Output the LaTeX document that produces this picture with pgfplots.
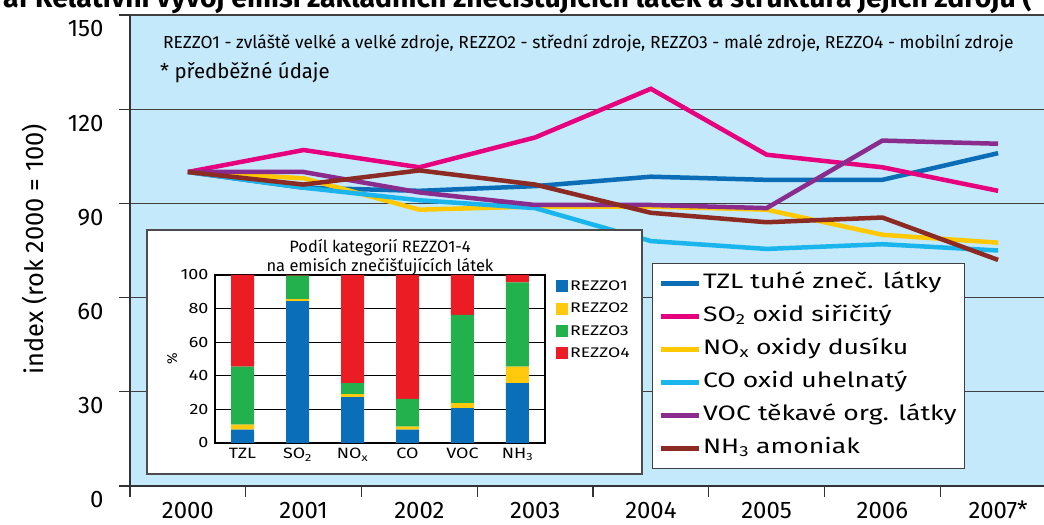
\documentclass[border=0pt]{standalone}
\usepackage{fontspec}
\setmainfont{Fira Sans}
\newfontfamily\widefont{Fira Sans}[FakeStretch=1.27]
\newfontfamily\midfont{Fira Sans}[FakeStretch=1.2]
\usepackage{pgfplots}
\pgfplotsset{compat=1.18}
\definecolor{bgblue}{HTML}{C4E9FA}
\definecolor{ctzl}{HTML}{0A6DB5}
\definecolor{cso}{HTML}{E6007E}
\definecolor{cnox}{HTML}{FFC800}
\definecolor{cco}{HTML}{19B5EC}
\definecolor{cvoc}{HTML}{8A2B8E}
\definecolor{cnh}{HTML}{8C2A24}
\definecolor{rone}{HTML}{0A6EB8}
\definecolor{rtwo}{HTML}{FFC90E}
\definecolor{rthree}{HTML}{22B14C}
\definecolor{rfour}{HTML}{EC1C24}

\begin{document}
\begin{tikzpicture}
% main chart: relative index
\begin{axis}[
    at={(130bp,39bp)}, anchor=south west, scale only axis,
    width=926bp, height=471bp,
    xmin=-0.5, xmax=7.5, ymin=0, ymax=150,
    axis x line*=bottom, axis y line*=left,
    axis line style={black!80, line width=1.2bp},
    axis background/.style={fill=bgblue},
    tick align=outside, major tick length=11bp,
    tick style={black!80, line width=1.2bp},
    ytick={0,30,...,150},
    ymajorgrids, grid style={black!75, line width=1.2bp},
    xtick={-0.5,0.5,...,7.5},
    x tick label as interval,
    xticklabels={2000,2001,2002,2003,2004,2005,2006,2007\smash{*}},
    /pgf/number format/assume math mode=true,
    tick label style={font=\fontsize{24}{26}\selectfont},
    yticklabel style={xshift=-12bp, yshift=-14bp},
    xticklabel style={inner sep=0pt, text height=17bp, text depth=0pt, yshift=-4bp},
    ylabel={index (rok 2000 = 100)},
    ylabel style={at={(axis description cs:-0.1026,0.502)}, anchor=center, font=\fontsize{25.5}{27}\selectfont},
    legend style={at={(0.5637,0.4735)}, anchor=north west, draw=black!75, line width=1.2bp,
        fill=white, font=\widefont\fontsize{21}{25}\selectfont, row sep=9bp, inner xsep=6bp, inner ysep=8bp,
        nodes={inner sep=2bp, text height=15bp, text depth=5bp}, cells={anchor=west}},
    legend image code/.code={\draw[#1, line width=4.5bp] (0bp,0bp) -- (38bp,0bp);},
    every axis plot/.append style={line width=4.5bp, mark=none},
]
\addplot[ctzl] coordinates {(0,100) (1,95) (2,94) (3,95.5) (4,98.5) (5,97.5) (6,97.5) (7,106)};
\addlegendentry{TZL tuhé zneč. látky}
\addplot[cso] coordinates {(0,100) (1,107) (2,101.5) (3,111) (4,126.5) (5,105.5) (6,101.5) (7,94)};
\addlegendentry{SO\textsubscript{2} oxid siřičitý}
\addplot[cnox] coordinates {(0,100) (1,98) (2,88) (3,89) (4,89) (5,88) (6,80) (7,77.5)};
\addlegendentry{NO\textsubscript{x} oxidy dusíku}
\addplot[cco] coordinates {(0,100) (1,95) (2,91) (3,88.5) (4,78) (5,75.5) (6,77) (7,75)};
\addlegendentry{CO oxid uhelnatý}
\addplot[cvoc] coordinates {(0,100) (1,100) (2,93.5) (3,89.5) (4,89.5) (5,88.5) (6,110) (7,109)};
\addlegendentry{VOC těkavé org. látky}
\addplot[cnh] coordinates {(0,100) (1,96) (2,100.5) (3,96) (4,87) (5,84) (6,85.5) (7,72)};
\addlegendentry{NH\textsubscript{3} amoniak}
\end{axis}

\node[anchor=west, font=\fontsize{17.5}{19}\selectfont, inner sep=0pt] at (163bp,482bp)
    {REZZO1 - zvláště velké a velké zdroje, REZZO2 - střední zdroje, REZZO3 - malé zdroje, REZZO4 - mobilní zdroje};
\node[anchor=west, font=\fontsize{20.5}{23}\selectfont, inner sep=0pt] at (160bp,452bp) {* předběžné údaje};

% title, cut at the top edge
\node[anchor=base west, font=\bfseries\fontsize{28.5}{30}\selectfont, inner sep=0pt] at (35bp,517bp)
    {Relativní vývoj emisí základních znečišťujících látek a struktura jejich zdrojů (};
\node[anchor=base east, font=\bfseries\fontsize{28.5}{30}\selectfont, inner sep=0pt] at (29bp,517bp) {Graf};

% inset chart
\draw[black!70, fill=white, line width=1.2bp] (147bp,295bp) rectangle (642bp,51bp);
\begin{axis}[
    at={(215bp,82bp)}, anchor=south west, scale only axis,
    width=330bp, height=168bp,
    ybar stacked, bar width=23bp,
    xmin=-0.5, xmax=5.5, ymin=0, ymax=100,
    xtick={0,...,5},
    xticklabels={TZL, SO\textsubscript{2}, NO\textsubscript{x}, CO, VOC, NH\textsubscript{3}},
    ytick={0,20,...,100},
    ymajorgrids, grid style={black, line width=1bp},
    axis line style={black, line width=1.2bp},
    major tick length=0pt,
    /pgf/number format/assume math mode=true,
    tick label style={font=\midfont\fontsize{15}{17}\selectfont},
    yticklabel style={xshift=-3bp},
    xticklabel style={yshift=-2bp},
    title={Podíl kategorií REZZO1-4\\na emisích znečišťujících látek},
    title style={align=center, font=\fontsize{16.5}{19}\selectfont, yshift=-9bp},
    ylabel={\%}, ylabel style={at={(axis description cs:-0.13,0.5)}, anchor=center, font=\fontsize{14}{16}\selectfont},
    legend style={at={(1.024,0.99)}, anchor=north west, draw=none, fill=none,
        font=\widefont\fontsize{14}{16}\selectfont, row sep=7bp, cells={anchor=west}},
    legend image code/.code={\fill[#1] (0bp,-6bp) rectangle (12bp,6bp);},
]
\addplot[fill=rone, draw=none] coordinates {(0,8) (1,84.5) (2,27.3) (3,7.9) (4,20.8) (5,35.6)};
\addlegendentry{REZZO1}
\addplot[fill=rtwo, draw=none] coordinates {(0,3) (1,1.2) (2,1.8) (3,1.8) (4,3) (5,9.9)};
\addlegendentry{REZZO2}
\addplot[fill=rthree, draw=none] coordinates {(0,34.5) (1,14) (2,6.5) (3,16.6) (4,52.4) (5,50.1)};
\addlegendentry{REZZO3}
\addplot[fill=rfour, draw=none] coordinates {(0,54.5) (1,0.3) (2,64.4) (3,73.7) (4,23.8) (5,4.4)};
\addlegendentry{REZZO4}
\end{axis}

\pgfresetboundingbox
\useasboundingbox (0bp,0bp) rectangle (1044bp,525bp);
\end{tikzpicture}
\end{document}
